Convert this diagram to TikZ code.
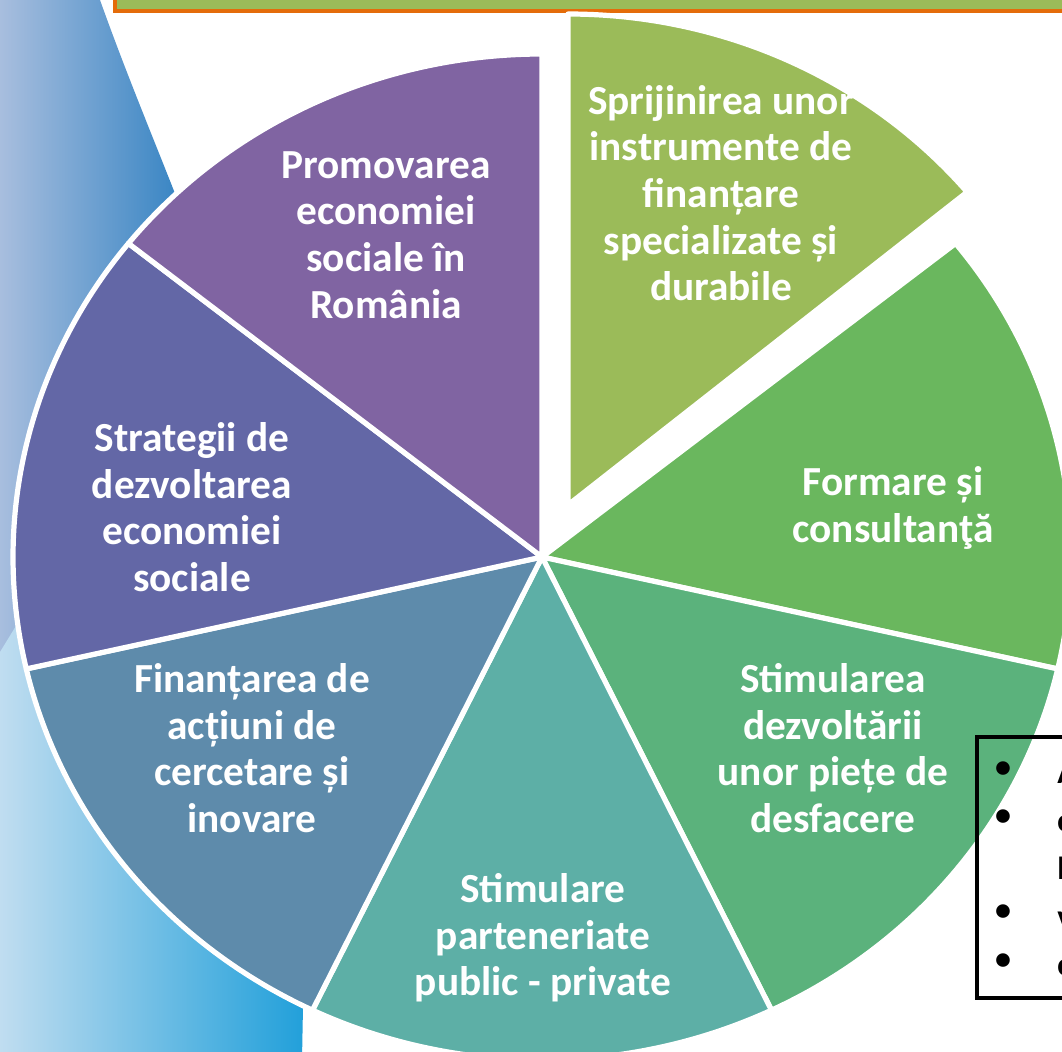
\documentclass[tikz,border=0pt]{standalone}
\usepackage{fontspec}
\setmainfont{Carlito}
\usepackage{xcolor}
\usepackage{tikz}

\tikzset{
  slice/.style={draw=white, line width=3.9pt, line join=round},
  slicetext/.style={text=white, font=\fontsize{31}{35}\selectfont\bfseries, align=center, inner sep=0.75pt},
  boxtext/.style={font=\fontsize{24}{36}\selectfont\bfseries, inner sep=0pt},
}

\begin{document}
\begin{tikzpicture}[x=0.75pt,y=0.75pt,yscale=-1,xscale=1]
		\useasboundingbox (0,0) rectangle (1062,1051);
		\clip (0,0) rectangle (1062,1051);
		
		%Shape: Band left [dark]
		\shade [left color={rgb, 255:red, 168; green, 190; blue, 222 }, right color={rgb, 255:red, 58; green, 134; blue, 196 }] (0,0) -- (100,0) .. controls (125,70) and (150,130) .. (176,196) -- (176,640) -- (0,700) -- cycle ;
		%Shape: Band left [light]
		\shade [left color={rgb, 255:red, 192; green, 221; blue, 240 }, right color={rgb, 255:red, 34; green, 160; blue, 218 }] (0,652) -- (30,603) -- (300,900) -- (303,1006) -- (302,1060) -- (0,1060) -- cycle ;
		
		%Shape: Title bar
		\draw [draw={rgb, 255:red, 228; green, 108; blue, 10 }, line width=2.4pt, fill={rgb, 255:red, 155; green, 187; blue, 89 }] (115,-10) rectangle (1080,11) ;
		
		%Shape: Pie slice [Formare]
		\draw [slice, fill={rgb, 255:red, 106; green, 183; blue, 94 }] (542,557) -- ++(-38.571:529 and 503) arc [start angle=-38.571, end angle=12.857, x radius=529, y radius=503] -- cycle ;
		%Shape: Pie slice [Stimularea]
		\draw [slice, fill={rgb, 255:red, 91; green, 178; blue, 124 }] (542,557) -- ++(12.857:529 and 503) arc [start angle=12.857, end angle=64.286, x radius=529, y radius=503] -- cycle ;
		%Shape: Pie slice [Parteneriate]
		\draw [slice, fill={rgb, 255:red, 93; green, 175; blue, 166 }] (542,557) -- ++(64.286:529 and 503) arc [start angle=64.286, end angle=115.714, x radius=529, y radius=503] -- cycle ;
		%Shape: Pie slice [Finantarea]
		\draw [slice, fill={rgb, 255:red, 94; green, 139; blue, 171 }] (542,557) -- ++(115.714:529 and 503) arc [start angle=115.714, end angle=167.143, x radius=529, y radius=503] -- cycle ;
		%Shape: Pie slice [Strategii]
		\draw [slice, fill={rgb, 255:red, 99; green, 103; blue, 166 }] (542,557) -- ++(167.143:529 and 503) arc [start angle=167.143, end angle=218.571, x radius=529, y radius=503] -- cycle ;
		%Shape: Pie slice [Promovarea]
		\draw [slice, fill={rgb, 255:red, 128; green, 100; blue, 162 }] (542,557) -- ++(218.571:529 and 503) arc [start angle=218.571, end angle=270, x radius=529, y radius=503] -- cycle ;
		%Shape: Pie slice exploded [Sprijinirea]
		\draw [slice, fill={rgb, 255:red, 155; green, 187; blue, 89 }] (568,505) -- ++(-90:518 and 491) arc [start angle=-90, end angle=-39.6, x radius=518, y radius=491] -- cycle ;
		
		% Text Node
		\draw (721,193) node (sprijin) [slicetext] {Sprijinirea unor\\instrumente de\\finanțare\\specializate și\\durabile};
		% Text Node
		\draw (893,508) node (formare) [slicetext] {Formare și\\consultanţă};
		% Text Node
		\draw (833,748) node (piete) [slicetext] {Stimularea\\dezvoltării\\unor piețe de\\desfacere};
		% Text Node
		\draw (543,938) node (partener) [slicetext] {Stimulare\\parteneriate\\public - private};
		% Text Node
		\draw (252,748) node (cercetare) [slicetext] {Finanțarea de\\acțiuni de\\cercetare și\\inovare};
		% Text Node
		\draw (192,507) node (strategii) [slicetext] {Strategii de\\dezvoltarea\\economiei\\sociale};
		% Text Node
		\draw (386,235) node (promovare) [slicetext] {Promovarea\\economiei\\sociale în\\România};
		
		%Shape: Side box
		\draw [line width=2.6pt] (977,737) rectangle (1080,998) ;
		% Text Node
		\draw (1003,770) node (bul1) [boxtext] {\textbullet};
		\draw (1003,818) node (bul2) [boxtext] {\textbullet};
		\draw (1003,913) node (bul3) [boxtext] {\textbullet};
		\draw (1003,962) node (bul4) [boxtext] {\textbullet};
		% Text Node
		\draw (1057,783) node (item1) [boxtext, anchor=base west] {A};
		\draw (1057,831) node (item2) [boxtext, anchor=base west] {c};
		\draw (1057,879) node (item3) [boxtext, anchor=base west] {l};
		\draw (1057,927) node (item4) [boxtext, anchor=base west] {v};
		\draw (1057,975) node (item5) [boxtext, anchor=base west] {c};
\end{tikzpicture}
\end{document}
